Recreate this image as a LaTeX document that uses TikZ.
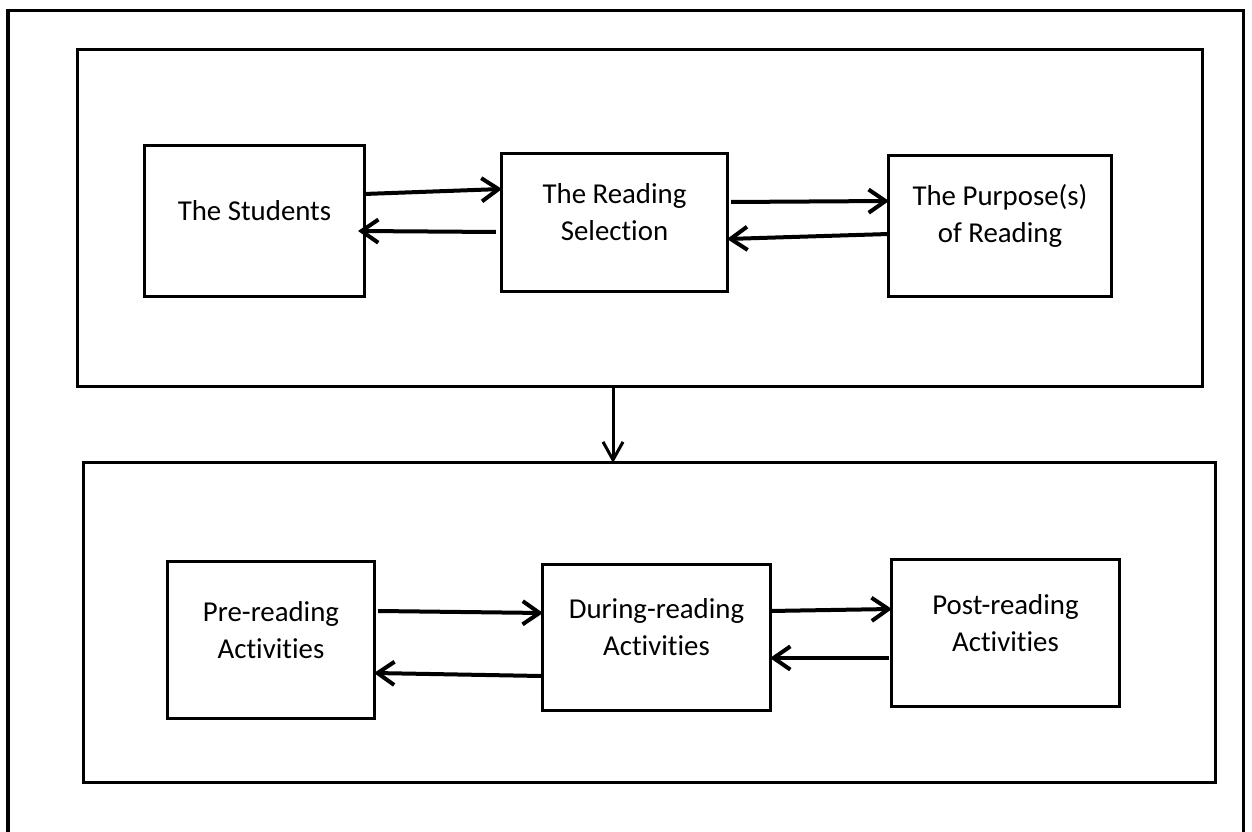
\documentclass[tikz,border=0pt]{standalone}
\usepackage{fontspec}
\setmainfont{Carlito}[Ligatures=CommonOff]
\usepackage{tikz}
\usetikzlibrary{positioning}
\usetikzlibrary{calc,arrows.meta}

\begin{document}
\begin{tikzpicture}[x=0.025cm, y=-0.025cm]

\tikzstyle{block}=[draw,line width=0.075cm,inner sep=0pt,outer sep=0pt]
\tikzstyle{panel}=[draw,line width=0.075cm,inner sep=0pt,outer sep=0pt]
\tikzstyle{txt}=[align=center,inner sep=0pt,font=\fontsize{20.5pt}{26.3pt}\selectfont]
\tikzstyle{arr}=[line width=0.1cm,-{Straight Barb[length=0.42cm,width=0.58cm]}]

    \useasboundingbox (0,0) rectangle (1252,832);

   %draw outer frame
    \draw[line width=0.075cm] (8,850) -- (8,11) -- (1243,11) -- (1243,850);

   %draw panels
    \node (top_panel) [panel,minimum width=28.1cm,minimum height=8.4cm] at (640,218) {};
    \node (low_panel) [panel,minimum width=28.275cm,minimum height=7.975cm] at (649.5,622.5) {};

    \draw [line width=0.075cm,-{Straight Barb[length=0.45cm,width=0.5cm]}] (top_panel.south -| 613,0) -- (low_panel.north -| 613,0);

   %upper row
    \node (stud) [block,minimum width=5.475cm,minimum height=3.75cm] at (254.5,221) {};
    \node (sel) [block,minimum width=5.625cm,minimum height=3.425cm] at (614.5,222.5) {};
    \node (purp) [block,minimum width=5.55cm,minimum height=3.5cm] at (1000,226) {};

    \node (stud_txt) [txt] at ($(stud.center)+(0,-10)$) {The Students};
    \node (sel_txt) [txt] at ($(sel.center)+(0,-10)$) {The Reading\\Selection};
    \node (purp_txt) [txt] at ($(purp.center)+(0,-10)$) {The Purpose(s)\\of Reading};

    \draw [arr] (stud.east |- 0,194) -- (sel.west |- 0,189);
    \draw [arr] ($(sel.west |- 0,232)+(-6,0)$) -- ($(stud.east |- 0,231)+(-6,0)$);
    \draw [arr] ($(sel.east |- 0,202)+(4,0)$) -- (purp.west |- 0,201);
    \draw [arr] (purp.west |- 0,234) -- (sel.east |- 0,239);

   %lower row
    \node (pre) [block,minimum width=5.15cm,minimum height=3.9cm] at (271,640) {};
    \node (during) [block,minimum width=5.675cm,minimum height=3.625cm] at (656.5,637.5) {};
    \node (post) [block,minimum width=5.675cm,minimum height=3.65cm] at (1005.5,633) {};

    \node (pre_txt) [txt] at ($(pre.center)+(0,-10)$) {Pre-reading\\Activities};
    \node (during_txt) [txt] at ($(during.center)+(0,-10)$) {During-reading\\Activities};
    \node (post_txt) [txt] at ($(post.center)+(0,-10)$) {Post-reading\\Activities};

    \draw [arr] ($(pre.east |- 0,611)+(4,0)$) -- (during.west |- 0,613);
    \draw [arr] ($(during.west |- 0,676)+(-2,0)$) -- (pre.east |- 0,673);
    \draw [arr] (during.east |- 0,611) -- (post.west |- 0,609);
    \draw [arr] ($(post.west |- 0,658)+(-3,0)$) -- (during.east |- 0,658);

\end{tikzpicture}
\end{document}
